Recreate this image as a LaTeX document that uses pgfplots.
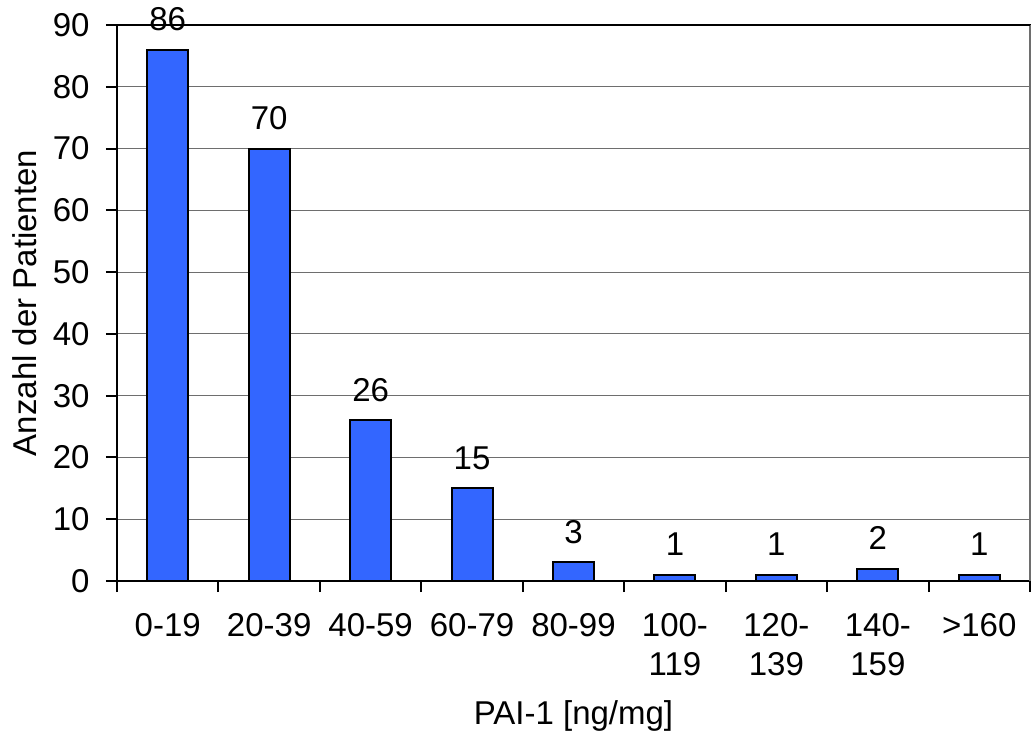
\documentclass[border=0pt]{standalone}
\usepackage{fontspec}
\setmainfont{Liberation Sans}
\usepackage{pgfplots}
\pgfplotsset{compat=1.18}
\definecolor{barblue}{RGB}{51,102,255}
\definecolor{gridgray}{RGB}{110,110,110}
\newcommand\chartfont{\fontsize{16.5pt}{19.5pt}\selectfont}
\begin{document}
\chartfont
\begin{tikzpicture}
\path[use as bounding box] (-58.5pt,-78pt) rectangle (457pt,290.5pt);
\begin{axis}[
  scale only axis,
  width=456.5pt, height=278pt,
  at={(0,0)}, anchor=south west,
  ybar, bar width=20.5pt,
  xmin=-0.5, xmax=8.5,
  ymin=0, ymax=90,
  ytick={0,10,...,90},
  xtick={0,...,8},
  xticklabels={0-19,20-39,40-59,60-79,80-99,100-\\119,120-\\139,140-\\159,>160},
  minor xtick={-0.5,0.5,...,8.5},
  major x tick style={draw=none},
  tick align=outside,
  xtick pos=bottom, ytick pos=left,
  major tick length=5.5pt, minor tick length=5.5pt,
  tick style={black, line width=1pt},
  ymajorgrids,
  grid style={gridgray, line width=0.6pt},
  axis line style={black, line width=1pt},
  /pgf/number format/assume math mode=true,
  ticklabel style={font=\chartfont},
  xticklabel style={align=center, anchor=north, yshift=-5pt},
  yticklabel style={xshift=-2.5pt},
  xlabel={PAI-1 [ng/mg]},
  ylabel={Anzahl der Patienten},
  xlabel style={at={(axis description cs:0.5,-0.243)}, anchor=center},
  ylabel style={at={(axis description cs:-0.101,0.5)}, anchor=center, rotate=0},
  label style={font=\chartfont},
  nodes near coords,
  every node near coord/.append style={font=\chartfont, inner sep=0pt, anchor=south, yshift=9pt},
  clip=false,
]
\addplot[fill=barblue, draw=black, line width=1pt] coordinates {
  (0,86) (1,70) (2,26) (3,15) (4,3) (5,1) (6,1) (7,2) (8,1)
};
\draw[gridgray, line width=0.8pt] (rel axis cs:1,0) -- (rel axis cs:1,1);
\draw[black, line width=1pt] (rel axis cs:0,1) -- (rel axis cs:1,1);
\end{axis}
\end{tikzpicture}
\end{document}
